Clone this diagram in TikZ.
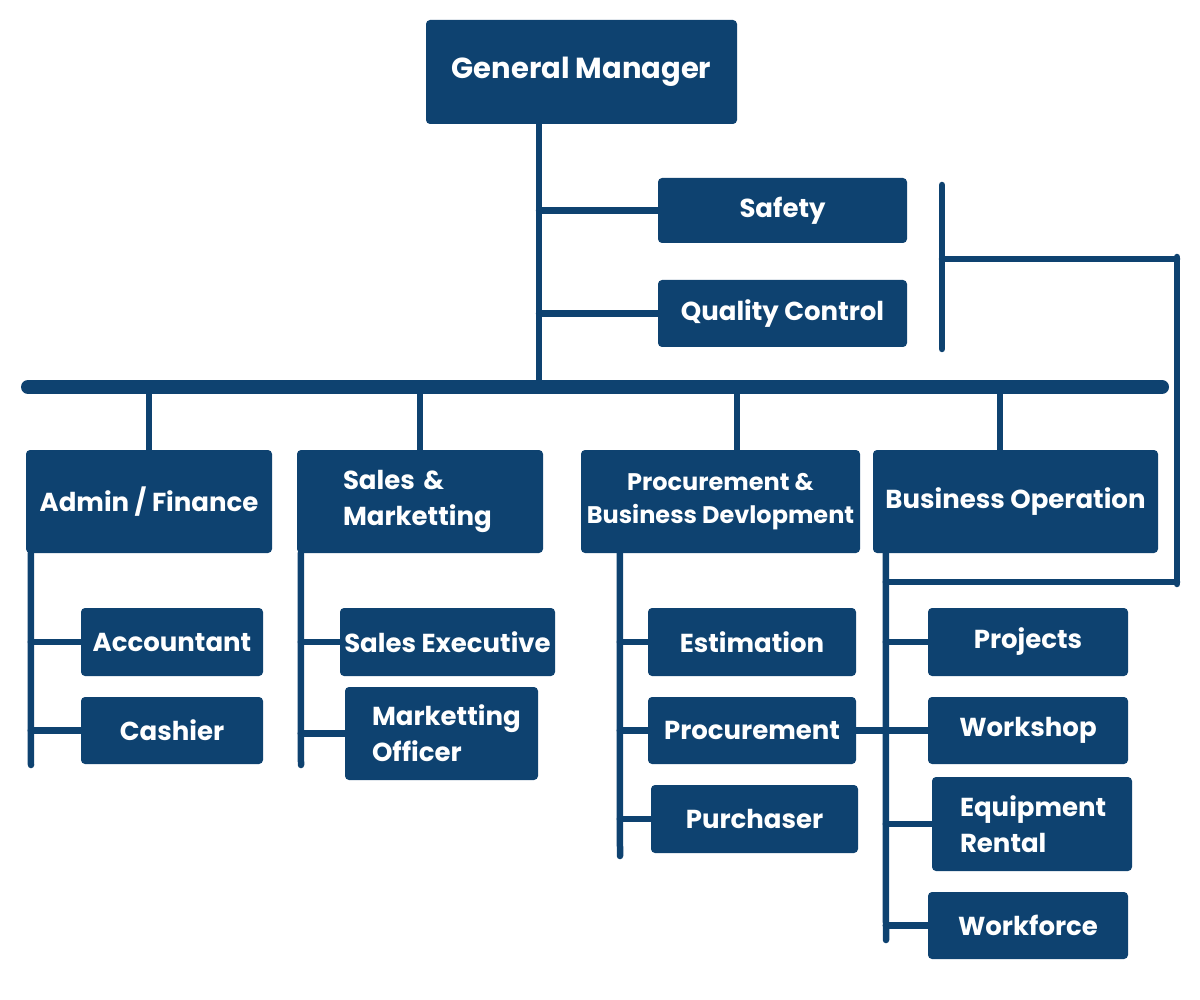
\documentclass[tikz,border=0pt]{standalone}
\usepackage{fontspec}
\setmainfont{Poppins}
\definecolor{navy}{HTML}{0E4270}
\begin{document}
\begin{tikzpicture}[x=1pt,y=-1pt,
  box/.style={fill=navy, rounded corners=4pt, text=white, inner sep=0pt, align=center,
    font=\bfseries\fontsize{26}{36}\selectfont},
  lbox/.style={box, align=left},
  ln/.style={draw=navy, line width=6.5pt, line cap=round},
  bus/.style={draw=navy, line width=14pt, line cap=round}]
\useasboundingbox (0,0) rectangle (1200,1000);
% top level
\node[box, minimum width=311pt, minimum height=104pt, font=\bfseries\fontsize{29}{34}\selectfont] (gm) at (581.5,72) {General Manager};
\node[box, minimum width=249pt, minimum height=65pt] (safety) at (782.5,210.5) {Safety};
\node[box, minimum width=249pt, minimum height=67pt] (qc) at (782.5,313.5) {Quality Control};
% departments
\node[box, minimum width=246pt, minimum height=103pt] (admin) at (149,501.5) {Admin / Finance};
\node[lbox, minimum height=103pt, text width=154pt, inner xsep=46pt] (sales) at (420,501.5) {Sales \&\\Marketting};
\node[box, minimum width=279pt, minimum height=103pt, font=\bfseries\fontsize{24}{33}\selectfont] (proc) at (720.5,501.5) {Procurement \&\\Business Devlopment};
\node[box, minimum width=285pt, minimum height=103pt] (bizop) at (1015.5,501.5) {Business Operation};
% admin children
\node[box, minimum width=182pt, minimum height=68pt] (acc) at (172,642) {Accountant};
\node[box, minimum width=182pt, minimum height=67pt] (cash) at (172,730.5) {Cashier};
% sales children
\node[box, minimum width=215pt, minimum height=68pt] (salesx) at (447.5,642) {Sales Executive};
\node[lbox, minimum height=93pt, text width=139pt, inner xsep=27pt] (mktoff) at (441.5,733.5) {Marketting\\Officer};
% procurement children
\node[box, minimum width=208pt, minimum height=68pt] (est) at (752,642) {Estimation};
\node[box, minimum width=208pt, minimum height=67pt] (procm) at (752,730.5) {Procurement};
\node[box, minimum width=207pt, minimum height=68pt] (purch) at (754.5,819) {Purchaser};
% business children
\node[box, minimum width=200pt, minimum height=68pt] (proj) at (1028,642) {Projects};
\node[box, minimum width=200pt, minimum height=67pt] (work) at (1028,730.5) {Workshop};
\node[lbox, minimum height=94pt, text width=144pt, inner xsep=28pt] (equip) at (1032,824) {Equipment\\Rental};
\node[box, minimum width=200pt, minimum height=67pt] (wforce) at (1028,925.5) {Workforce};
% coordinates
\coordinate (gmx) at (539,0);
\coordinate (busL) at (28,387);
\coordinate (busR) at (1162,387);
\coordinate (aTop) at ([xshift=5pt]admin.south west);
\coordinate (aBot) at (31,765);
\coordinate (sTop) at ([xshift=4pt]sales.south west);
\coordinate (sBot) at (301,765);
\coordinate (pTop) at ([xshift=39pt]proc.south west);
\coordinate (pBot) at (620,856);
\coordinate (bTop) at ([xshift=13pt]bizop.south west);
\coordinate (bBot) at (886,940);
\coordinate (pDrop) at ([xshift=16.5pt]proc.north);
\coordinate (bDrop) at ([xshift=-15.5pt]bizop.north);
\coordinate (brA) at (942,185);
\coordinate (brB) at (942,349);
\coordinate (brM) at (942,259);
\coordinate (brR1) at (1177,257);
\coordinate (brR2) at (1177,584);
% spine and bus
\draw[ln] (gmx |- gm.south) -- (gmx |- busL);
\draw[ln] (gmx |- safety.west) -- (safety.west);
\draw[ln] (gmx |- qc.west) -- (qc.west);
\draw[bus] (busL) -- (busR);
\draw[ln] (admin.north |- busL) -- (admin.north);
\draw[ln] (sales.north |- busL) -- (sales.north);
\draw[ln] (pDrop |- busL) -- (pDrop);
\draw[ln] (bDrop |- busL) -- (bDrop);
% sub trees
\draw[ln] (aTop) -- (aBot);
\draw[ln] (aTop |- acc.west) -- (acc.west);
\draw[ln] (aTop |- cash.west) -- (cash.west);
\draw[ln] (sTop) -- (sBot);
\draw[ln] (sTop |- salesx.west) -- (salesx.west);
\draw[ln] (sTop |- mktoff.west) -- (mktoff.west);
\draw[ln] (pTop) -- (pBot);
\draw[ln] (pTop |- est.west) -- (est.west);
\draw[ln] (pTop |- procm.west) -- (procm.west);
\draw[ln] (pTop |- purch.west) -- (purch.west);
\draw[ln] (bTop) -- (bBot);
\draw[ln] (bTop |- proj.west) -- (proj.west);
\draw[ln] (bTop |- work.west) -- (work.west);
\draw[ln] (bTop |- equip.west) -- (equip.west);
\draw[ln] (bTop |- wforce.west) -- (wforce.west);
\draw[ln] (procm.east) -- (bTop |- procm.east);
% right bracket
\draw[ln] (brA) -- (brB);
\draw[ln] (brM) -- (brR1 |- brM);
\draw[ln] (brR1) -- (brR2);
\draw[ln] (bTop |- 0,582) -- (brR2 |- 0,582);
\end{tikzpicture}
\end{document}
